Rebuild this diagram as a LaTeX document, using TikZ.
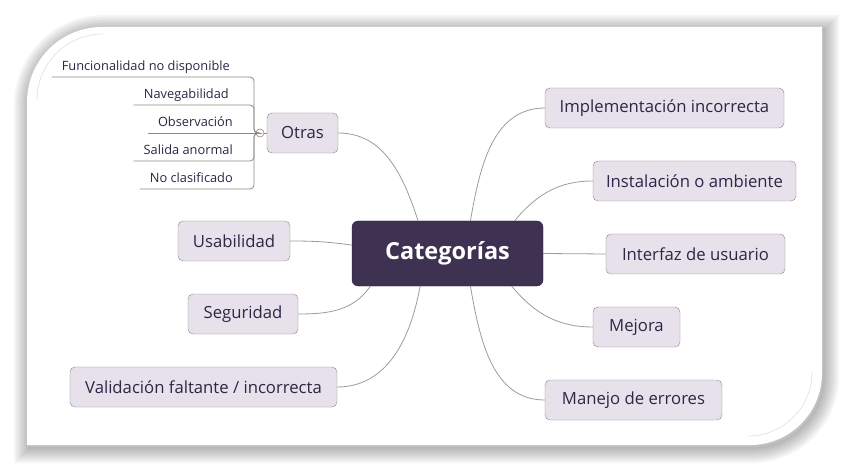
\documentclass[tikz,border=0pt]{standalone}
\usepackage{fontspec}
\setmainfont{Open Sans}
\usetikzlibrary{calc}
\definecolor{catfill}{HTML}{3E3151}
\definecolor{leaffill}{HTML}{E7E1EB}
\definecolor{leafdraw}{HTML}{8F8883}
\definecolor{inkblue}{HTML}{2B2745}
\definecolor{linkgray}{HTML}{9C9C9C}
\tikzset{
  cat/.style={draw=catfill!80!black, fill=catfill, rounded corners=6pt, text=white,
    font=\fontsize{23.5}{28}\selectfont\bfseries, minimum width=191pt, minimum height=65pt},
  leaf/.style={draw=leafdraw, fill=leaffill, rounded corners=5pt, text=inkblue,
    font=\fontsize{16.7}{20}\selectfont, minimum height=40pt, inner xsep=0pt},
  subitem/.style={anchor=south east, inner xsep=10pt, inner ysep=4pt, text=inkblue,
    text height=0.75em, text depth=0.25em, font=\fontsize{12.8}{15}\selectfont},
  link/.style={draw=linkgray, line width=0.8pt},
  subline/.style={draw=leafdraw, line width=0.8pt, rounded corners=4pt},
}
\begin{document}
\begin{tikzpicture}[x=1pt,y=1pt]
\useasboundingbox (0,0) rectangle (849,-473);
% card and its shadow
\foreach \w in {2,6,...,30}
  \draw[black, opacity=0.04, line width=\w pt, shift={(2,-3)}]
    (27,-445) -- (27,-102) arc[start angle=180, end angle=90, radius=75]
    -- (822,-27) -- (822,-373) arc[start angle=0, end angle=-90, radius=72] -- cycle;
\fill[white] (27,-445) -- (27,-102) arc[start angle=180, end angle=90, radius=75]
    -- (822,-27) -- (822,-373) arc[start angle=0, end angle=-90, radius=72] -- cycle;
\draw[gray!25, line width=0.6pt] (37,-100) arc[start angle=180, end angle=90, radius=66];
\draw[gray!25, line width=0.6pt] (812,-372) arc[start angle=0, end angle=-90, radius=64];

% main topic
\node[cat] (cat) at (447.5,-253.5) {Categorías};

% right side
\node[leaf, minimum width=239pt] (impl) at (664.5,-108) {Implementación incorrecta};
\node[leaf, minimum width=203pt] (inst) at (694.5,-181) {Instalación o ambiente};
\node[leaf, minimum width=179pt] (ui) at (695.5,-254) {Interfaz de usuario};
\node[leaf, minimum width=87pt] (mejora) at (636.5,-327) {Mejora};
\node[leaf, minimum width=177pt] (errores) at (633.5,-400) {Manejo de errores};

% left side
\node[leaf, minimum width=71pt] (otras) at (302.5,-133) {Otras};
\node[leaf, minimum width=112pt] (usab) at (234,-241) {Usabilidad};
\node[leaf, minimum width=110pt] (segur) at (243,-314) {Seguridad};
\node[leaf, minimum width=267pt] (valid) at (203.5,-387) {Validación faltante / incorrecta};

\draw[link] (cat.55) to[out=80,in=180] (impl.west);
\draw[link] (cat.26) to[out=50,in=180] (inst.west);
\draw[link] (cat.east) -- (ui.west);
\draw[link] (cat.-27) to[out=-50,in=180] (mejora.west);
\draw[link] (cat.-55) to[out=-80,in=180] (errores.west);
\draw[link] (cat.132) to[out=108,in=0] (otras.east);
\draw[link] (cat.175) to[out=172,in=0] (usab.east);
\draw[link] (cat.203) to[out=235,in=0] (segur.east);
\draw[link] (cat.230) to[out=-100,in=0] (valid.east);

% sub topics of Otras
\node[circle, draw=leafdraw, fill=white, line width=0.6pt, minimum size=8pt, inner sep=0pt] (fold) at (260,-133) {};
\draw[leafdraw, line width=0.6pt] ($(fold.center)+(-2,0)$) -- ($(fold.center)+(2,0)$);
\draw[subline] (fold.east) -- (otras.west);
\coordinate (hub) at (254,-133);
\node[subitem] (s1) at (240,-77) {Funcionalidad no disponible};
\node[subitem] (s2) at (239,-105) {Navegabilidad};
\node[subitem] (s3) at (243,-133) {Observación};
\node[subitem] (s4) at (243,-161) {Salida anormal};
\node[subitem] (s5) at (243,-189) {No clasificado};
\draw[subline] (s1.south west) -- (s1.south west -| hub) -- (hub) -- (fold.west);
\draw[subline] (s2.south west) -- (s2.south west -| hub) -- (hub) -- (fold.west);
\draw[subline] (s3.south west) -- (fold.west);
\draw[subline] (s4.south west) -- (s4.south west -| hub) -- (hub) -- (fold.west);
\draw[subline] (s5.south west) -- (s5.south west -| hub) -- (hub) -- (fold.west);
\end{tikzpicture}
\end{document}
